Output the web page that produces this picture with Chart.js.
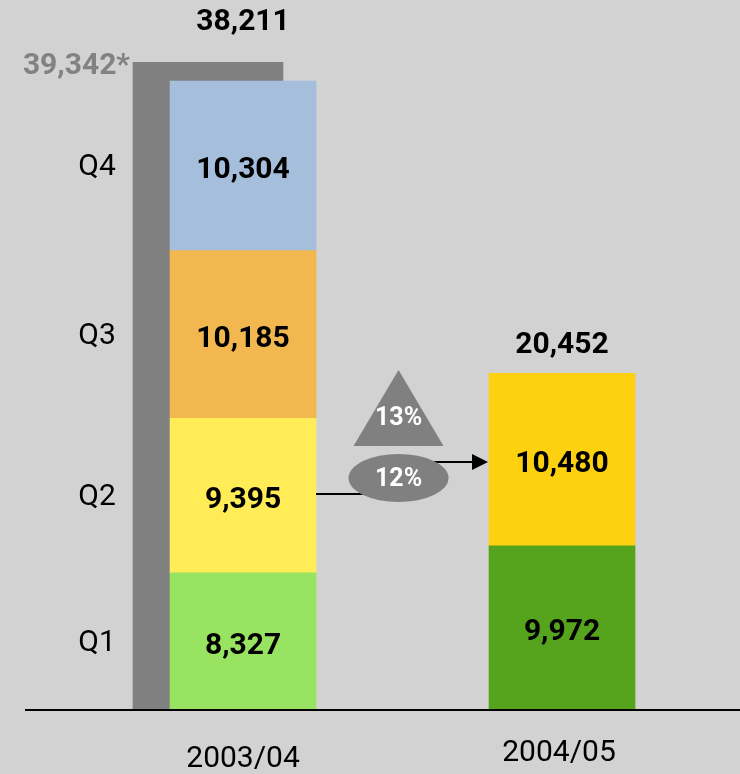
<!DOCTYPE html>
<html>
<head>
<meta charset="utf-8">
<script src="https://cdn.jsdelivr.net/npm/chart.js@4/dist/chart.umd.min.js"></script>
<style>
  html, body { margin: 0; padding: 0; background: #d2d2d2; }
  #wrap { width: 740px; height: 774px; }
</style>
</head>
<body>
<div id="wrap"><canvas id="chart" width="740" height="774"></canvas></div>
<script>
// data
const categories = ['2003/04', '2004/05'];
const quarters = ['Q1', 'Q2', 'Q3', 'Q4'];
const q1 = [8327, 9972];
const q2 = [9395, 10480];
const q3 = [10185, null];
const q4 = [10304, null];
const totals = [38211, 20452];
const prevEstimate = 39342;      // grey bar behind 2003/04, labelled with *
const growthYear = '13%';
const growthHalf = '12%';

const colors = {
  q1: ['#98e462', '#56a31e'],
  q2: ['#ffec57', '#fed110'],
  q3: ['#f2b84f', '#f2b84f'],
  q4: ['#a5bedc', '#a5bedc']
};

const FONT = 'Roboto, "DejaVu Sans", sans-serif';

function pts(arr) {
  return arr.map((v, i) => ({ x: i, y: v })).filter(p => p.y !== null);
}

function fmt(v) { return v.toLocaleString('en-US'); }

const stackSet = (label, arr, col) => ({
  label: label,
  data: pts(arr),
  backgroundColor: col,
  stack: 'main',
  grouped: false,
  barThickness: 146,
  borderWidth: 0,
  order: 0
});

const decor = {
  id: 'decor',
  beforeDraw(chart) {
    const c = chart.ctx;
    c.save();
    c.fillStyle = '#d2d2d2';
    c.fillRect(0, 0, chart.width, chart.height);
    c.restore();
  },
  afterDatasetsDraw(chart) {
    const c = chart.ctx;
    const xs = chart.scales.x, ys = chart.scales.y;
    const base = ys.getPixelForValue(0);
    c.save();

    // baseline
    c.strokeStyle = '#000';
    c.lineWidth = 2;
    c.beginPath();
    c.moveTo(25, base);
    c.lineTo(chart.width, base);
    c.stroke();

    // values inside the segments
    c.textAlign = 'center';
    c.textBaseline = 'middle';
    c.font = 'bold 30px ' + FONT;
    c.fillStyle = '#000';
    chart.data.datasets.forEach((ds, di) => {
      if (ds.stack !== 'main') return;
      const meta = chart.getDatasetMeta(di);
      meta.data.forEach((el, i) => {
        const mid = (el.y + el.base) / 2;
        c.fillText(fmt(ds.data[i].y), el.x, mid + 5);
      });
    });

    // quarter labels along the first bar
    c.font = '30px ' + FONT;
    quarters.forEach((q, qi) => {
      const el = chart.getDatasetMeta(qi + 1).data[0];
      c.fillText(q, 97, (el.y + el.base) / 2 + 2);
    });

    // totals above the stacks
    c.font = 'bold 30px ' + FONT;
    const shadowTop = ys.getPixelForValue(prevEstimate);
    totals.forEach((t, i) => {
      const top = ys.getPixelForValue(t);
      const y = i === 0 ? shadowTop - 40 : top - 28;
      c.fillText(fmt(t), xs.getPixelForValue(i), y);
    });

    // grey estimate label
    c.textAlign = 'right';
    c.fillStyle = '#828282';
    const sh = chart.getDatasetMeta(0).data[0];
    c.fillText(fmt(prevEstimate) + '*', sh.x - 75 - 3, shadowTop + 4);

    // category labels
    c.textAlign = 'center';
    c.fillStyle = '#000';
    c.font = '30px ' + FONT;
    c.fillText(categories[0], xs.getPixelForValue(0), base + 49);
    c.fillText(categories[1], xs.getPixelForValue(1) - 3, base + 43);

    // growth markers between the bars
    const leftEdge = xs.getPixelForValue(0) + 73;
    const rightEdge = xs.getPixelForValue(1) - 73;
    const cx = (leftEdge + rightEdge) / 2 - 4;

    c.strokeStyle = '#000';
    c.lineWidth = 2;
    c.beginPath();
    c.moveTo(leftEdge, 494);
    c.lineTo(cx, 494);
    c.moveTo(cx, 462);
    c.lineTo(rightEdge - 14, 462);
    c.stroke();
    c.fillStyle = '#000';
    c.beginPath();
    c.moveTo(rightEdge - 1, 462);
    c.lineTo(rightEdge - 17, 454);
    c.lineTo(rightEdge - 17, 470);
    c.closePath();
    c.fill();

    c.fillStyle = '#808080';
    c.beginPath();
    c.ellipse(cx, 478, 50, 24, 0, 0, Math.PI * 2);
    c.fill();

    c.beginPath();
    c.moveTo(cx, 370);
    c.lineTo(cx + 45, 446);
    c.lineTo(cx - 45, 446);
    c.closePath();
    c.fill();

    c.fillStyle = '#fff';
    c.font = 'bold 25px ' + FONT;
    c.fillText(growthYear, cx, 419);
    c.fillText(growthHalf, cx, 480);

    c.restore();
  }
};

new Chart(document.getElementById('chart'), {
  type: 'bar',
  data: {
    datasets: [
      {
        label: 'previous',
        data: [{ x: -0.11, y: prevEstimate }],
        backgroundColor: '#808080',
        stack: 'shadow',
        grouped: false,
        barThickness: 150,
        borderWidth: 0,
        order: 1
      },
      stackSet('Q1', q1, colors.q1),
      stackSet('Q2', q2, colors.q2),
      stackSet('Q3', q3, colors.q3),
      stackSet('Q4', q4, colors.q4)
    ]
  },
  options: {
    responsive: false,
    animation: false,
    layout: { padding: { left: 0, right: 0, top: 0, bottom: 64 } },
    plugins: { legend: { display: false }, tooltip: { enabled: false } },
    scales: {
      x: { type: 'linear', min: -0.762, max: 1.558, offset: false, display: false },
      y: { stacked: true, min: 0, max: 43130, display: false }
    }
  },
  plugins: [decor]
});
</script>
</body>
</html>
